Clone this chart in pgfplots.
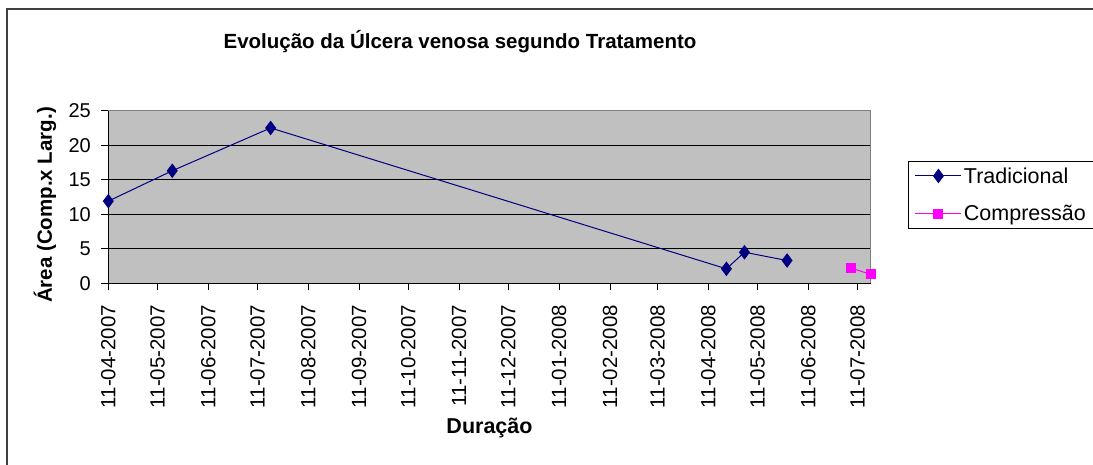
\documentclass[border=0pt]{standalone}
\usepackage{pgfplots}
\pgfplotsset{compat=1.18}
\usepackage{fontspec}
\setmainfont{Liberation Sans}
\definecolor{plotgray}{HTML}{C0C0C0}
\definecolor{navyc}{HTML}{000080}
\definecolor{magc}{HTML}{FF00FF}
\definecolor{framec}{HTML}{808080}
\definecolor{outerc}{HTML}{404040}
\begin{document}
\begin{tikzpicture}
\useasboundingbox (0pt,0pt) rectangle (1093pt,464pt);
\draw[outerc, line width=2pt] (7pt,-5pt) -- (7pt,455pt) -- (1100pt,455pt);
\begin{axis}[
  scale only axis, width=762.4pt, height=172.6pt,
  at={(108.3pt,180.7pt)}, anchor=south west,
  xmin=0, xmax=465, ymin=0, ymax=25,
  clip=false,
  axis lines=left, axis line style={-, black, line width=1pt},
  axis background/.style={fill=plotgray},
  ymajorgrids, grid style={black, line width=1.2pt},
  tick align=outside, major tick length=7pt,
  tick style={black, line width=1pt},
  ytick={0,5,10,15,20,25},
  xtick={0,30,61,91,122,153,183,214,244,275,306,335,366,396,427,457},
  xticklabels={11-04-2007,11-05-2007,11-06-2007,11-07-2007,11-08-2007,11-09-2007,11-10-2007,11-11-2007,11-12-2007,11-01-2008,11-02-2008,11-03-2008,11-04-2008,11-05-2008,11-06-2008,11-07-2008},
  /pgf/number format/assume math mode=true,
  yticklabel style={font=\fontsize{20}{23}\selectfont},
  yticklabel shift=7pt,
  xticklabel style={font=\fontsize{20.5}{24}\selectfont, rotate=90, anchor=east},
  xticklabel shift=11pt,
  title={Evolução da Úlcera venosa segundo Tratamento},
  title style={font=\bfseries\fontsize{20.5}{24}\selectfont, at={(axis description cs:0.4613,1.363)}, anchor=center},
  xlabel={Duração},
  xlabel style={font=\bfseries\fontsize{21.5}{24}\selectfont, at={(axis description cs:0.5,-0.838)}, anchor=center},
  ylabel={Área (Comp.x Larg.)},
  ylabel style={font=\bfseries\fontsize{20.5}{24}\selectfont, at={(axis description cs:-0.083,0.4537)}, anchor=center, rotate=0},
  legend style={at={(1.0495,0.709)}, anchor=north west, draw=black, line width=1pt, fill=white,
    font=\fontsize{21.5}{24}\selectfont, row sep=17pt, inner xsep=6pt, inner ysep=4pt, cells={anchor=west}},
  legend image code/.code={\draw[mark repeat=2, mark phase=2] plot coordinates {(0pt,0pt) (23pt,0pt) (46pt,0pt)};},
]
\draw[framec, line width=1.5pt] (rel axis cs:0,1) -- (rel axis cs:1,1) -- (rel axis cs:1,0);
\addplot[navyc, line width=1pt, mark=diamond*, mark size=6.5pt, mark options={fill=navyc, draw=navyc}]
  coordinates {(0,11.9) (39,16.3) (99,22.5) (377,2.1) (388,4.5) (414,3.3)};
\addlegendentry{Tradicional}
\addplot[magc, line width=1pt, mark=square*, mark size=4.5pt, mark options={fill=magc, draw=magc}]
  coordinates {(453,2.2) (465,1.3)};
\addlegendentry{Compressão}
\end{axis}
\end{tikzpicture}
\end{document}
